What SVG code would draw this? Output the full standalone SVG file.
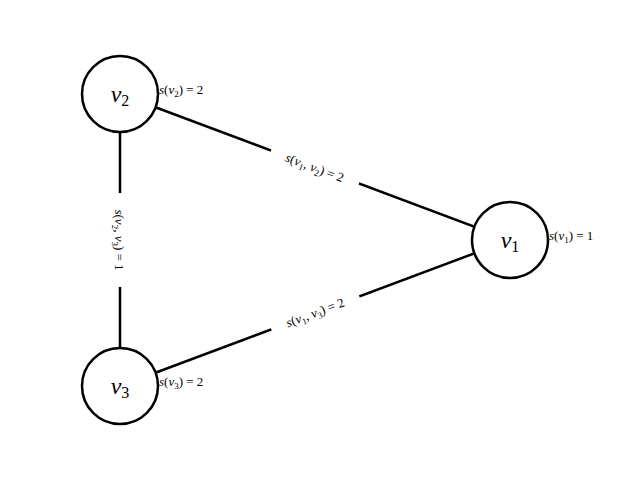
<svg xmlns="http://www.w3.org/2000/svg" width="640" height="480" viewBox="0 0 640 480">
<style>
.n{fill:#fff;stroke:#000;stroke-width:2.5}
.e{stroke:#000;stroke-width:2.5}
.t{font-family:"Liberation Serif",serif;fill:#000}
.nl{font-size:24px;font-style:italic}
.sl{font-size:13px}
.i{font-style:italic}
.bg{fill:#fff}
</style>
<rect width="640" height="480" fill="#fff"/>
<g id="connectors">
<line class="e" x1="120" y1="94" x2="510" y2="240"/>
<line class="e" x1="120" y1="386" x2="510" y2="240"/>
<line class="e" x1="120" y1="94" x2="120" y2="386"/>
<g transform="translate(315,167) rotate(20.5)">
<rect class="bg" x="-47" y="-10" width="94" height="20"/>
<text class="t sl" text-anchor="middle" y="5"><tspan class="i">s</tspan>(<tspan class="i">v</tspan><tspan font-size="9" dy="3">1</tspan><tspan dy="-3">, </tspan><tspan class="i">v</tspan><tspan font-size="9" dy="3">2</tspan><tspan dy="-3">) = 2</tspan></text>
</g>
<g transform="translate(315,312) rotate(-20.5)">
<rect class="bg" x="-47" y="-10" width="94" height="20"/>
<text class="t sl" text-anchor="middle" y="5"><tspan class="i">s</tspan>(<tspan class="i">v</tspan><tspan font-size="9" dy="3">1</tspan><tspan dy="-3">, </tspan><tspan class="i">v</tspan><tspan font-size="9" dy="3">3</tspan><tspan dy="-3">) = 2</tspan></text>
</g>
<g transform="translate(120,240) rotate(90)">
<rect class="bg" x="-47" y="-10" width="94" height="20"/>
<text class="t sl" text-anchor="middle" y="5"><tspan class="i">s</tspan>(<tspan class="i">v</tspan><tspan font-size="9" dy="3">2</tspan><tspan dy="-3">, </tspan><tspan class="i">v</tspan><tspan font-size="9" dy="3">3</tspan><tspan dy="-3">) = 1</tspan></text>
</g>
</g>
<g id="v2">
<circle class="n" cx="120" cy="94" r="38"/>
<text class="t nl" x="120" y="102" text-anchor="middle">v<tspan font-size="16" dy="4" font-style="normal">2</tspan></text>
<text class="t sl" x="159" y="94"><tspan class="i">s</tspan>(<tspan class="i">v</tspan><tspan font-size="9" dy="3">2</tspan><tspan dy="-3">) = 2</tspan></text>
</g>
<g id="v1">
<circle class="n" cx="510" cy="240" r="38"/>
<text class="t nl" x="510" y="248" text-anchor="middle">v<tspan font-size="16" dy="4" font-style="normal">1</tspan></text>
<text class="t sl" x="549" y="240"><tspan class="i">s</tspan>(<tspan class="i">v</tspan><tspan font-size="9" dy="3">1</tspan><tspan dy="-3">) = 1</tspan></text>
</g>
<g id="v3">
<circle class="n" cx="120" cy="386" r="38"/>
<text class="t nl" x="120" y="394" text-anchor="middle">v<tspan font-size="16" dy="4" font-style="normal">3</tspan></text>
<text class="t sl" x="159" y="386"><tspan class="i">s</tspan>(<tspan class="i">v</tspan><tspan font-size="9" dy="3">3</tspan><tspan dy="-3">) = 2</tspan></text>
</g>
</svg>
